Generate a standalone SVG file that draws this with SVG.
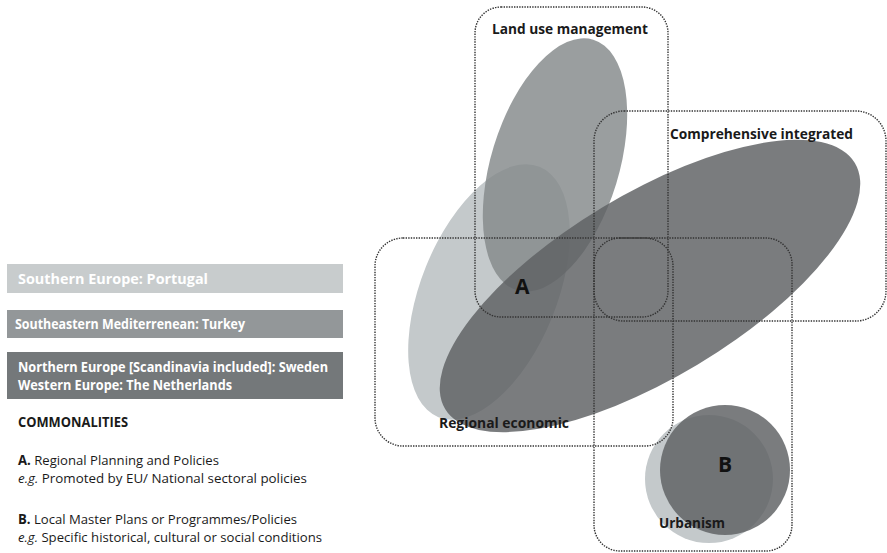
<svg xmlns="http://www.w3.org/2000/svg" width="887" height="553" viewBox="0 0 887 553">
<style>
.leg{font-family:"Open Sans","Liberation Sans",sans-serif;font-weight:bold;font-size:14px;fill:#ffffff}
.lbl{font-family:"Open Sans","Liberation Sans",sans-serif;font-weight:bold;font-size:14px;fill:#1a1a1a}
.big{font-family:"Open Sans","Liberation Sans",sans-serif;font-weight:bold;font-size:21px;fill:#111111}
.txt{font-family:"Open Sans","Liberation Sans",sans-serif;font-size:13.5px;fill:#1a1a1a}
.b{font-weight:bold}
.i{font-style:italic}
.frame{fill:none;stroke:#333333;stroke-width:1.4;stroke-dasharray:1.4 1.2}
.light{fill:#c4c9cb}
.mid{fill:#858a8c;fill-opacity:0.83}
.dark{fill:#5f6264;fill-opacity:0.83}
</style>
<rect width="887" height="553" fill="#ffffff"/>
<g id="legend">
<rect x="7" y="264" width="336" height="29" fill="#c8cccd"/>
<text class="leg" x="18" y="284" textLength="190" lengthAdjust="spacingAndGlyphs">Southern Europe: Portugal</text>
<rect x="7" y="310" width="336" height="28" fill="#939799"/>
<text class="leg" x="15" y="329" textLength="230" lengthAdjust="spacingAndGlyphs">Southeastern Mediterrenean: Turkey</text>
<rect x="7" y="352" width="336" height="47" fill="#74787a"/>
<text class="leg" x="18" y="372" textLength="310" lengthAdjust="spacingAndGlyphs">Northern Europe [Scandinavia included]: Sweden</text>
<text class="leg" x="18" y="390" textLength="214" lengthAdjust="spacingAndGlyphs">Western Europe: The Netherlands</text>
</g>
<g id="commonalities">
<text class="txt b" x="18" y="427" textLength="110" lengthAdjust="spacingAndGlyphs">COMMONALITIES</text>
<text class="txt" x="18" y="465" textLength="201" lengthAdjust="spacingAndGlyphs"><tspan class="b">A.</tspan> Regional Planning and Policies</text>
<text class="txt" x="18" y="483" textLength="289" lengthAdjust="spacingAndGlyphs"><tspan class="i">e.g.</tspan> Promoted by EU/ National sectoral policies</text>
<text class="txt" x="18" y="524" textLength="279" lengthAdjust="spacingAndGlyphs"><tspan class="b">B.</tspan> Local Master Plans or Programmes/Policies</text>
<text class="txt" x="18" y="542" textLength="304" lengthAdjust="spacingAndGlyphs"><tspan class="i">e.g.</tspan> Specific historical, cultural or social conditions</text>
</g>
<g id="shapes">
<ellipse class="light" cx="489" cy="292" rx="135" ry="68" transform="rotate(-68 489 292)"/>
<ellipse class="mid" cx="555" cy="165" rx="131" ry="64" transform="rotate(-73 555 165)"/>
<ellipse class="dark" cx="650" cy="286" rx="239" ry="92" transform="rotate(-31 650 286)"/>
<circle class="light" cx="709" cy="479" r="64"/>
<circle class="dark" cx="725" cy="470" r="65"/>
</g>
<g id="connectors"></g>
<g id="land-use-management">
<rect class="frame" x="475" y="7" width="193" height="310" rx="26"/>
<text class="lbl" x="492" y="34" textLength="156" lengthAdjust="spacingAndGlyphs">Land use management</text>
</g>
<g id="comprehensive-integrated">
<rect class="frame" x="594" y="111" width="292" height="210" rx="30"/>
<text class="lbl" x="670" y="139" textLength="183" lengthAdjust="spacingAndGlyphs">Comprehensive integrated</text>
</g>
<g id="regional-economic">
<rect class="frame" x="375" y="238" width="298" height="208" rx="28"/>
<text class="lbl" x="439" y="428" textLength="130" lengthAdjust="spacingAndGlyphs">Regional economic</text>
</g>
<g id="urbanism">
<rect class="frame" x="594" y="238" width="198" height="313" rx="26"/>
<text class="lbl" x="659" y="528" textLength="66" lengthAdjust="spacingAndGlyphs">Urbanism</text>
</g>
<g id="A"><text class="big" x="515" y="294">A</text></g>
<g id="B"><text class="big" x="718" y="472">B</text></g>
</svg>
